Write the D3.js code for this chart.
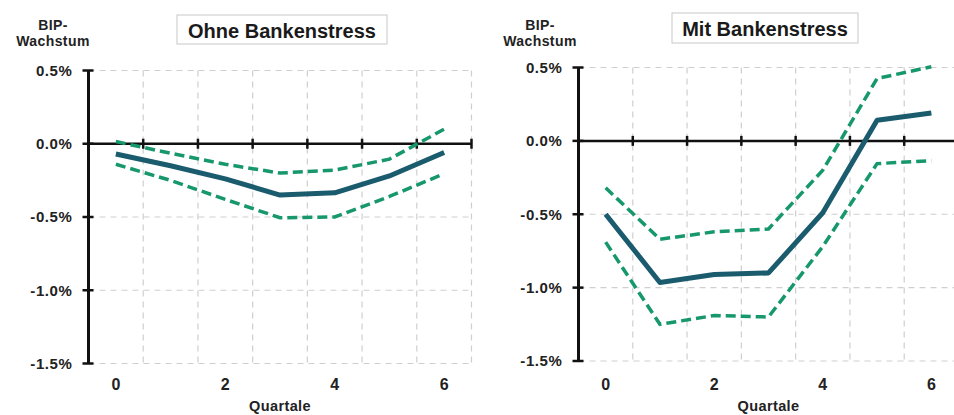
<!DOCTYPE html>
<html>
<head>
<meta charset="utf-8">
<script src="https://cdn.jsdelivr.net/npm/d3@7/dist/d3.min.js"></script>
<style>
  html, body { margin: 0; padding: 0; background: #fff; }
  svg { display: block; font-family: "Liberation Sans", Arial, sans-serif; }
</style>
</head>
<body>
<svg id="chart" width="954" height="415"></svg>
<script>
// Quarters after the shock
const quarters = [0, 1, 2, 3, 4, 5, 6];
const xTickLabels = [0, 2, 4, 6];
const yTickValues = [0.5, 0, -0.5, -1.0, -1.5];

// GDP growth response without banking stress (%)
const ohneMitte = [-0.07, -0.15, -0.24, -0.35, -0.335, -0.22, -0.06];
const ohneOben  = [0.015, -0.065, -0.14, -0.2, -0.18, -0.105, 0.10];
const ohneUnten = [-0.14, -0.25, -0.38, -0.505, -0.50, -0.36, -0.205];

// GDP growth response with banking stress (%)
const mitMitte = [-0.50, -0.965, -0.91, -0.90, -0.49, 0.14, 0.19];
const mitOben  = [-0.32, -0.67, -0.62, -0.60, -0.20, 0.425, 0.505];
const mitUnten = [-0.69, -1.25, -1.19, -1.20, -0.72, -0.155, -0.135];

const titles = ["Ohne Bankenstress", "Mit Bankenstress"];
const yTitle = ["BIP-", "Wachstum"];
const xTitle = "Quartale";

const svg = d3.select("#chart");
const locale = d3.formatLocale({ decimal: ".", thousands: ",", grouping: [3], currency: ["", ""], minus: "-" });
const fmt = d => locale.format(".1f")(d) + "%";

const colMid = "#1b5b6e";
const colBand = "#17976d";
const colGrid = "#cfcfcf";

function drawPanel(p) {
  const g = svg.append("g");
  const x = d3.scaleLinear().domain([-0.5, 6.5]).range([p.x0, p.x1]);
  const y = d3.scaleLinear().domain([-1.5, 0.5]).range([p.yBot, p.yTop]);
  const right = Math.min(p.x1, 954);

  // dashed grid
  const hGrid = yTickValues.filter(v => v !== 0);
  g.selectAll(".hg").data(hGrid).join("line")
    .attr("x1", x(-0.5)).attr("x2", right)
    .attr("y1", d => y(d)).attr("y2", d => y(d))
    .attr("stroke", colGrid).attr("stroke-width", 1.2).attr("stroke-dasharray", "6,5");
  const vGrid = d3.range(0.5, 6.6, 1);
  g.selectAll(".vg").data(vGrid).join("line")
    .attr("x1", d => x(d)).attr("x2", d => x(d))
    .attr("y1", y(0.5)).attr("y2", y(-1.5))
    .attr("stroke", colGrid).attr("stroke-width", 1.2).attr("stroke-dasharray", "6,5");

  // zero line with category ticks
  g.append("line")
    .attr("x1", x(-0.5)).attr("x2", right)
    .attr("y1", y(0)).attr("y2", y(0))
    .attr("stroke", "#111").attr("stroke-width", 2.5);
  g.selectAll(".zt").data(vGrid).join("line")
    .attr("x1", d => x(d)).attr("x2", d => x(d))
    .attr("y1", y(0) - 5).attr("y2", y(0) + 5)
    .attr("stroke", "#111").attr("stroke-width", 2.5);

  // y axis
  g.append("line")
    .attr("x1", x(-0.5)).attr("x2", x(-0.5))
    .attr("y1", y(0.5)).attr("y2", y(-1.5))
    .attr("stroke", "#111").attr("stroke-width", 3);
  g.selectAll(".yt").data(yTickValues).join("line")
    .attr("x1", x(-0.5) - 6).attr("x2", x(-0.5) + 5)
    .attr("y1", d => y(d)).attr("y2", d => y(d))
    .attr("stroke", "#111").attr("stroke-width", 2.5);
  g.selectAll(".yl").data(yTickValues).join("text")
    .attr("x", x(-0.5) - 16).attr("y", d => y(d))
    .attr("dy", "0.36em").attr("text-anchor", "end")
    .attr("font-size", 15).attr("font-weight", "bold").attr("fill", "#222")
    .attr("letter-spacing", "0.6px")
    .text(fmt);

  // x labels
  g.selectAll(".xl").data(xTickLabels).join("text")
    .attr("x", d => x(d)).attr("y", 390)
    .attr("text-anchor", "middle")
    .attr("font-size", 16).attr("font-weight", "bold").attr("fill", "#222")
    .text(d => d);
  g.append("text")
    .attr("x", x(3)).attr("y", 411)
    .attr("text-anchor", "middle")
    .attr("font-size", 14.5).attr("font-weight", "bold").attr("fill", "#222")
    .attr("letter-spacing", "0.4px")
    .text(xTitle);

  // y title
  g.selectAll(".yti").data(yTitle).join("text")
    .attr("x", p.yTitleX).attr("y", (d, i) => 30 + i * 16)
    .attr("text-anchor", "middle")
    .attr("font-size", 14).attr("font-weight", "bold").attr("fill", "#222")
    .attr("letter-spacing", "0.4px")
    .text(d => d);

  // title box
  g.append("rect")
    .attr("x", p.box[0]).attr("y", p.box[1])
    .attr("width", p.box[2]).attr("height", p.box[3])
    .attr("fill", "#fff").attr("stroke", "#c8c8c8").attr("stroke-width", 1);
  g.append("text")
    .attr("x", p.box[0] + p.box[2] / 2).attr("y", p.box[1] + 22.5)
    .attr("text-anchor", "middle")
    .attr("font-size", 20).attr("font-weight", "bold").attr("fill", "#1a1a1a")
    .text(p.title);

  // lines
  const line = d3.line().x((d, i) => x(quarters[i])).y(d => y(d));
  [p.upper, p.lower].forEach(s => {
    g.append("path").datum(s).attr("d", line)
      .attr("fill", "none").attr("stroke", colBand)
      .attr("stroke-width", 3.5).attr("stroke-dasharray", "10,5");
  });
  g.append("path").datum(p.mid).attr("d", line)
    .attr("fill", "none").attr("stroke", colMid)
    .attr("stroke-width", 5).attr("stroke-linejoin", "round");
}

drawPanel({
  x0: 88.5, x1: 471.5, yTop: 70.5, yBot: 363.5,
  mid: ohneMitte, upper: ohneOben, lower: ohneUnten,
  title: titles[0], box: [177, 15, 210, 29], yTitleX: 53
});
drawPanel({
  x0: 578.5, x1: 958.5, yTop: 67.5, yBot: 361,
  mid: mitMitte, upper: mitOben, lower: mitUnten,
  title: titles[1], box: [672, 13, 186, 30], yTitleX: 540
});
</script>
</body>
</html>
